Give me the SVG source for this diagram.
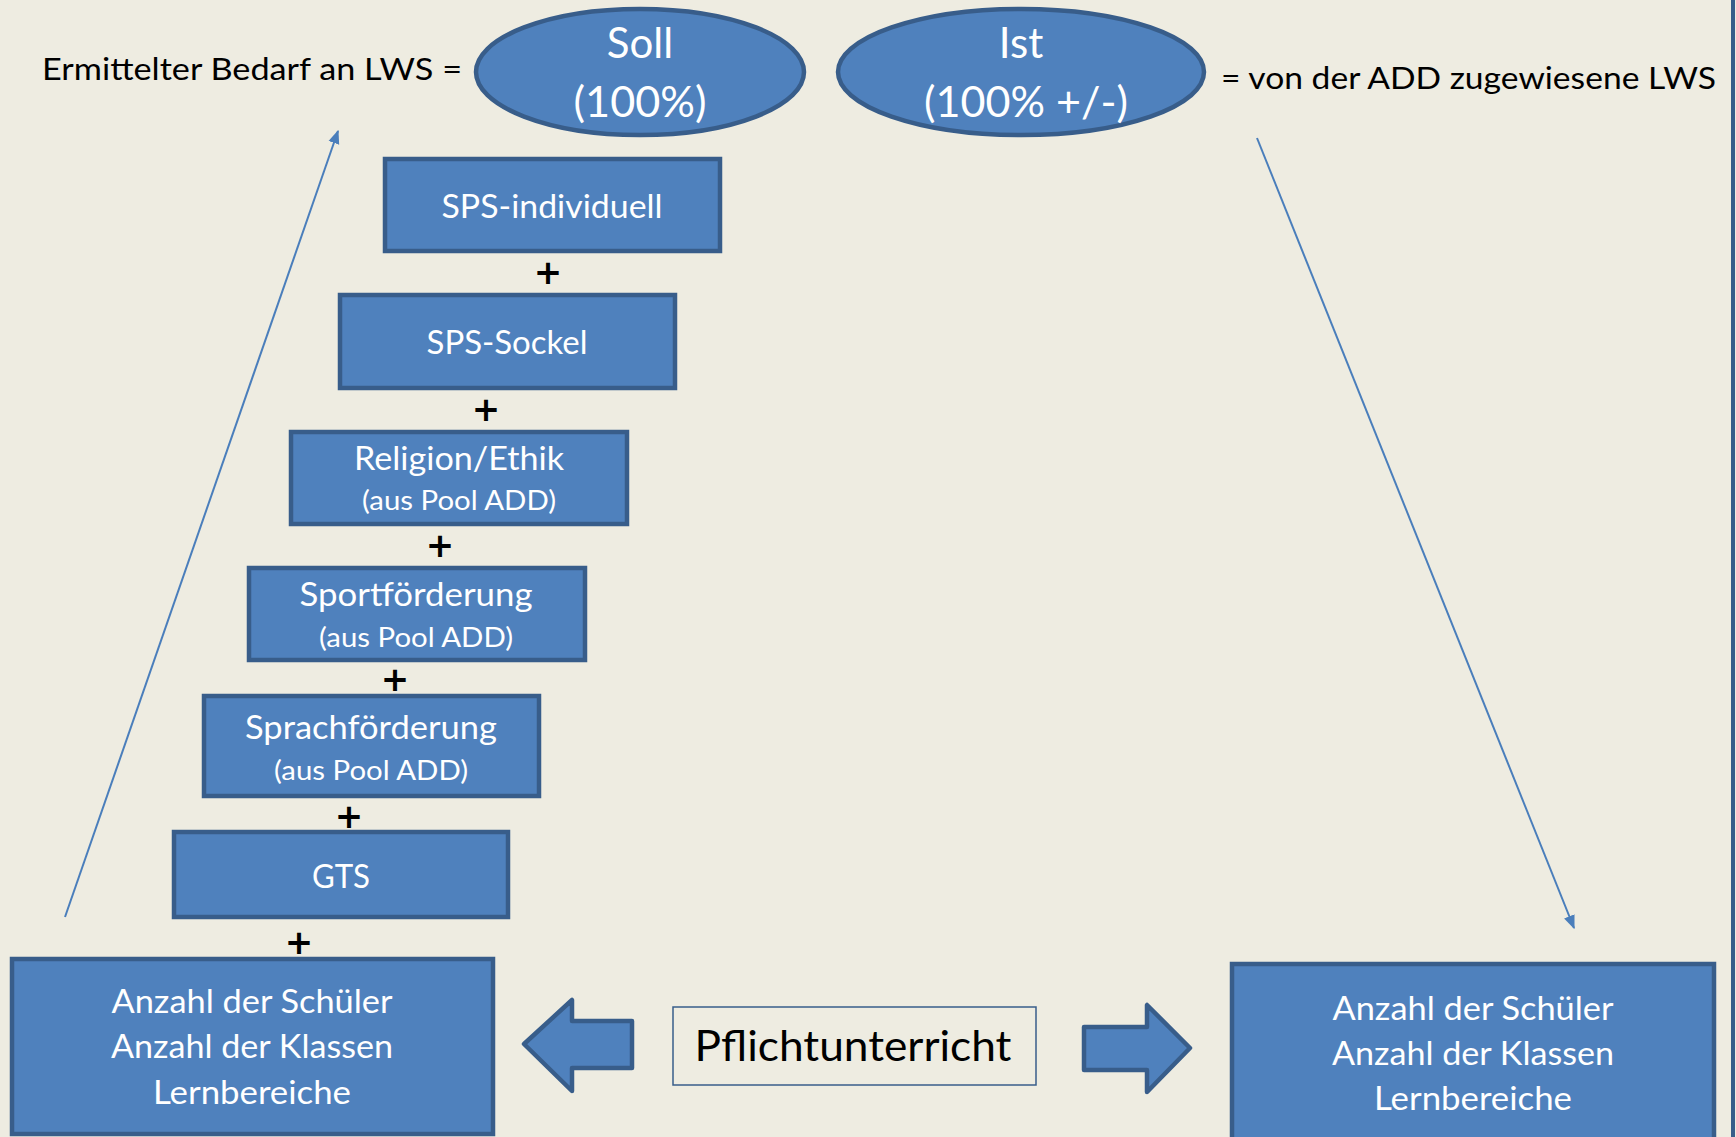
<svg xmlns="http://www.w3.org/2000/svg" width="1736" height="1137" viewBox="0 0 1736 1137">
<defs>
<style>
.box{fill:#4F81BD;stroke:#385D8A;stroke-width:4.5}
.wt{fill:#FFFFFF;font-family:Lato,"Open Sans",sans-serif;text-anchor:middle}
.bt{fill:#000000;font-family:Lato,"Open Sans",sans-serif}
.plus{fill:#000000;font-family:"DejaVu Sans",sans-serif;font-size:34px;font-weight:bold;text-anchor:middle}
.conn{stroke:#4A7EBB;stroke-width:2;fill:none}
</style>
<marker id="ah2" viewBox="0 0 10 10" refX="9" refY="5" markerWidth="14" markerHeight="14" orient="auto" markerUnits="userSpaceOnUse">
<path d="M0,1 L10,5 L0,9 z" fill="#4A7EBB"/>
</marker>
</defs>
<rect x="0" y="0" width="1736" height="1137" fill="#EEECE1"/>
<line x1="1733" y1="0" x2="1733" y2="1137" stroke="#385D8A" stroke-width="4"/>

<g id="label-left">
<text class="bt" x="42" y="80" font-size="31" textLength="420" lengthAdjust="spacingAndGlyphs">Ermittelter Bedarf an LWS =</text>
</g>
<g id="label-right">
<text class="bt" x="1221" y="89" font-size="31" textLength="495" lengthAdjust="spacingAndGlyphs">= von der ADD zugewiesene LWS</text>
</g>

<g id="soll">
<ellipse class="box" cx="640" cy="72" rx="164" ry="63"/>
<text class="wt" x="640" y="58" font-size="42">Soll</text>
<text class="wt" x="640" y="117" font-size="42" textLength="133" lengthAdjust="spacingAndGlyphs">(100%)</text>
</g>
<g id="ist">
<ellipse class="box" cx="1021" cy="72" rx="183" ry="63"/>
<text class="wt" x="1021" y="58" font-size="42">Ist</text>
<text class="wt" x="1026" y="117" font-size="42" textLength="204" lengthAdjust="spacingAndGlyphs">(100% +/-)</text>
</g>

<g id="sps-individuell">
<rect class="box" x="385" y="159" width="335" height="92"/>
<text class="wt" x="552" y="218" font-size="33" textLength="221" lengthAdjust="spacingAndGlyphs">SPS-individuell</text>
</g>
<g id="sps-sockel">
<rect class="box" x="340" y="295" width="335" height="93"/>
<text class="wt" x="507" y="354" font-size="33" textLength="161" lengthAdjust="spacingAndGlyphs">SPS-Sockel</text>
</g>
<g id="religion">
<rect class="box" x="291" y="432" width="336" height="92"/>
<text class="wt" x="459" y="470" font-size="33" textLength="210" lengthAdjust="spacingAndGlyphs">Religion/Ethik</text>
<text class="wt" x="459" y="510" font-size="27" textLength="194" lengthAdjust="spacingAndGlyphs">(aus Pool ADD)</text>
</g>
<g id="sportfoerderung">
<rect class="box" x="249" y="568" width="336" height="92"/>
<text class="wt" x="416" y="606" font-size="33" textLength="233" lengthAdjust="spacingAndGlyphs">Sportförderung</text>
<text class="wt" x="416" y="647" font-size="27" textLength="194" lengthAdjust="spacingAndGlyphs">(aus Pool ADD)</text>
</g>
<g id="sprachfoerderung">
<rect class="box" x="204" y="696" width="335" height="100"/>
<text class="wt" x="371" y="739" font-size="33" textLength="252" lengthAdjust="spacingAndGlyphs">Sprachförderung</text>
<text class="wt" x="371" y="780" font-size="27" textLength="194" lengthAdjust="spacingAndGlyphs">(aus Pool ADD)</text>
</g>
<g id="gts">
<rect class="box" x="174" y="832" width="334" height="85"/>
<text class="wt" x="341" y="888" font-size="33" textLength="58" lengthAdjust="spacingAndGlyphs">GTS</text>
</g>
<g id="basis-links">
<rect class="box" x="12" y="959" width="481" height="175"/>
<text class="wt" x="252" y="1013" font-size="33" textLength="281" lengthAdjust="spacingAndGlyphs">Anzahl der Schüler</text>
<text class="wt" x="252" y="1058" font-size="33" textLength="282" lengthAdjust="spacingAndGlyphs">Anzahl der Klassen</text>
<text class="wt" x="252" y="1104" font-size="33" textLength="198" lengthAdjust="spacingAndGlyphs">Lernbereiche</text>
</g>
<g id="basis-rechts">
<rect class="box" x="1232" y="964" width="482" height="180"/>
<text class="wt" x="1473" y="1020" font-size="33" textLength="281" lengthAdjust="spacingAndGlyphs">Anzahl der Schüler</text>
<text class="wt" x="1473" y="1065" font-size="33" textLength="282" lengthAdjust="spacingAndGlyphs">Anzahl der Klassen</text>
<text class="wt" x="1473" y="1110" font-size="33" textLength="198" lengthAdjust="spacingAndGlyphs">Lernbereiche</text>
</g>

<g id="pflichtunterricht">
<rect x="673" y="1007" width="363" height="78" fill="#EEECE1" stroke="#385D8A" stroke-width="1.5"/>
<text class="bt" x="853" y="1061" font-size="42" text-anchor="middle" textLength="317" lengthAdjust="spacingAndGlyphs">Pflichtunterricht</text>
</g>

<g id="pfeil-links">
<path class="box" d="M524,1044 L572,1000 L572,1021 L632,1021 L632,1068 L572,1068 L572,1091 Z" stroke-linejoin="round"/>
</g>
<g id="pfeil-rechts">
<path class="box" d="M1190,1048 L1147,1005 L1147,1027 L1084,1027 L1084,1070 L1147,1070 L1147,1092 Z" stroke-linejoin="round"/>
</g>

<g id="plus-zeichen">
<text class="plus" x="548" y="284">+</text>
<text class="plus" x="486" y="421">+</text>
<text class="plus" x="440" y="557">+</text>
<text class="plus" x="395" y="691">+</text>
<text class="plus" x="349" y="828">+</text>
<text class="plus" x="299" y="954">+</text>
</g>

<g id="connectors">
<line class="conn" x1="65" y1="917" x2="338" y2="131" marker-end="url(#ah2)"/>
<line class="conn" x1="1257" y1="138" x2="1574" y2="928" marker-end="url(#ah2)"/>
</g>
</svg>
